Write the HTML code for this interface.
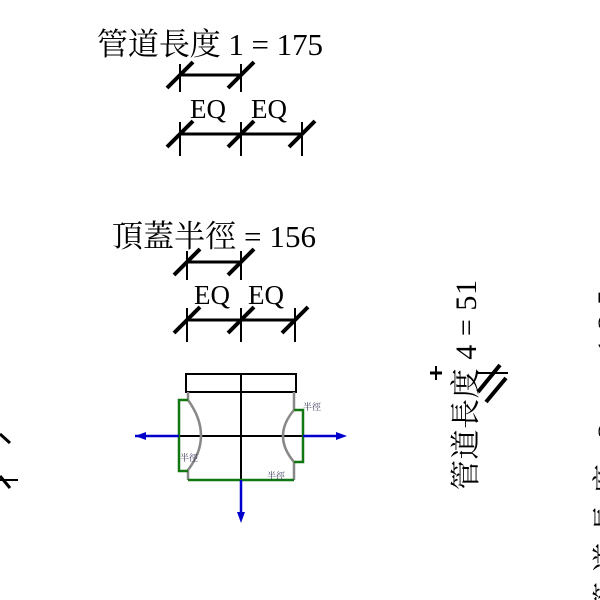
<!DOCTYPE html>
<html><head><meta charset="utf-8"><style>
html,body{margin:0;padding:0;background:#fff;width:600px;height:600px;overflow:hidden}
svg{display:block;overflow:hidden}
text{font-family:"Liberation Serif","Noto Serif CJK SC",serif;fill:#000}
</style></head><body>
<svg width="600" height="600" viewBox="0 0 600 600" xmlns="http://www.w3.org/2000/svg">
<g stroke="#000" fill="none">
<line x1="180" y1="75" x2="241" y2="75" stroke-width="3"/>
<line x1="180" y1="64" x2="180" y2="92" stroke-width="2"/>
<line x1="241" y1="64" x2="241" y2="92" stroke-width="2"/>
<line x1="167" y1="88" x2="193" y2="62" stroke-width="4"/>
<line x1="228" y1="88" x2="254" y2="62" stroke-width="4"/>
<line x1="180" y1="134" x2="302" y2="134" stroke-width="3"/>
<line x1="180" y1="122" x2="180" y2="156" stroke-width="2"/>
<line x1="241" y1="122" x2="241" y2="156" stroke-width="2"/>
<line x1="302" y1="122" x2="302" y2="156" stroke-width="2"/>
<line x1="167" y1="147" x2="193" y2="121" stroke-width="4"/>
<line x1="228" y1="147" x2="254" y2="121" stroke-width="4"/>
<line x1="289" y1="147" x2="315" y2="121" stroke-width="4"/>
<line x1="187" y1="262" x2="241" y2="262" stroke-width="3"/>
<line x1="187" y1="251" x2="187" y2="280" stroke-width="2"/>
<line x1="241" y1="251" x2="241" y2="280" stroke-width="2"/>
<line x1="174" y1="275" x2="200" y2="249" stroke-width="4"/>
<line x1="228" y1="275" x2="254" y2="249" stroke-width="4"/>
<line x1="187" y1="320" x2="295" y2="320" stroke-width="3"/>
<line x1="187" y1="308" x2="187" y2="342" stroke-width="2"/>
<line x1="241" y1="308" x2="241" y2="342" stroke-width="2"/>
<line x1="295" y1="308" x2="295" y2="342" stroke-width="2"/>
<line x1="174" y1="333" x2="200" y2="307" stroke-width="4"/>
<line x1="228" y1="333" x2="254" y2="307" stroke-width="4"/>
<line x1="282" y1="333" x2="308" y2="307" stroke-width="4"/>
</g>
<text x="97" y="55" font-size="31" textLength="226">管道長度 1 = 175</text>
<text x="190" y="118" font-size="27">EQ</text>
<text x="251" y="118" font-size="27">EQ</text>
<text x="112" y="247" font-size="31" textLength="204">頂蓋半徑 = 156</text>
<text x="194" y="304" font-size="27">EQ</text>
<text x="248" y="304" font-size="27">EQ</text>

<g fill="none" stroke-width="2.5">
<rect x="186" y="374" width="110" height="18" stroke="#000" stroke-width="2"/>
<line x1="241" y1="374" x2="241" y2="480" stroke="#000" stroke-width="2"/>
<line x1="179" y1="436" x2="303" y2="436" stroke="#000" stroke-width="2"/>
<path d="M188 392 V400 Q214 436 188 470 V480" stroke="#888"/>
<path d="M294 392 V410 Q272 436 294 462 V480" stroke="#888"/>
<path d="M188 400 H179 V471 H188" stroke="#117711"/>
<path d="M294 410 H303 V462 H294" stroke="#117711"/>
<line x1="188" y1="480" x2="294" y2="480" stroke="#117711"/>
<line x1="135" y1="436" x2="179" y2="436" stroke="#0000cc"/>
<line x1="303" y1="436" x2="340" y2="436" stroke="#0000cc"/>
<line x1="241" y1="480" x2="241" y2="516" stroke="#0000cc"/>
</g>
<polygon points="135,436 146,432 146,440" fill="#0000cc"/>
<polygon points="347,436 336,432 336,440" fill="#0000cc"/>
<polygon points="241,523 237,512 245,512" fill="#0000cc"/>
<g font-size="9" style="font-family:'Noto Sans CJK TC',sans-serif">
<text x="180" y="461" style="fill:#335">半徑</text>
<text x="303" y="410" style="fill:#335">半徑</text>
<text x="267" y="479" style="fill:#335">半徑</text>
</g>

<text transform="translate(476,490) rotate(-90)" font-size="30" textLength="210">管道長度 4 = 51</text>
<g stroke="#000">
<line x1="430" y1="373" x2="442" y2="373" stroke-width="3"/>
<line x1="436" y1="366" x2="436" y2="380" stroke-width="2"/>
<line x1="477" y1="373" x2="508" y2="373" stroke-width="2"/>
<line x1="478" y1="392" x2="500" y2="365" stroke-width="4"/>
<line x1="486" y1="402" x2="506" y2="378" stroke-width="4"/>
</g>
<text transform="translate(618,612) rotate(-90)" font-size="30" textLength="322">管道長度 2 = 125</text>
<g stroke="#000" stroke-width="3">
<line x1="0" y1="434" x2="10" y2="443"/>
<line x1="0" y1="480" x2="18" y2="480" stroke-width="2"/>
<line x1="0" y1="476" x2="10" y2="488"/>
</g>
</svg>
</body></html>
